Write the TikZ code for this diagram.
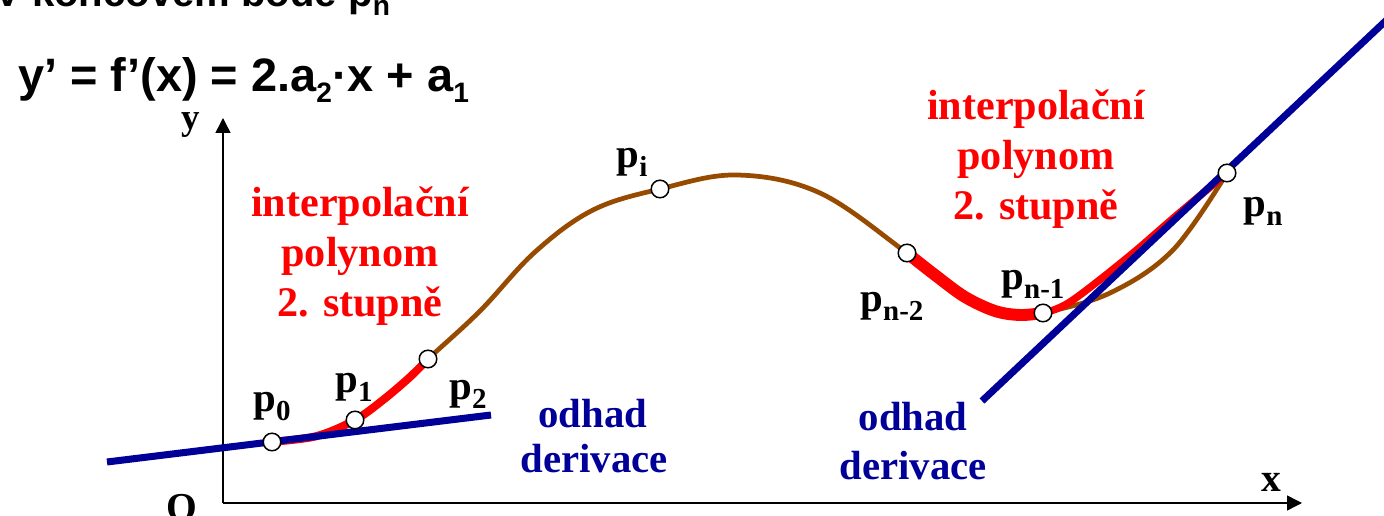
\documentclass[tikz,border=0pt]{standalone}
\usepackage{fontspec}
\setmainfont{Liberation Serif}
\newfontfamily\arialfont{Liberation Sans}
\usetikzlibrary{arrows.meta}
\definecolor{navyline}{RGB}{0,0,153}
\definecolor{curvebrown}{RGB}{150,75,0}
\newcommand{\lsub}[1]{\raisebox{-0.2em}{\fontsize{16.5pt}{16.5pt}\selectfont #1}}
\newcommand{\esub}[1]{\raisebox{-0.22em}{\fontsize{16pt}{16pt}\selectfont #1}}
\begin{document}
\begin{tikzpicture}[x=0.02cm,y=-0.02cm,
  ptlabel/.style={font=\bfseries\fontsize{23.2pt}{28pt}\selectfont, anchor=base, inner sep=0pt},
  axislabel/.style={font=\bfseries\fontsize{22.5pt}{26pt}\selectfont, anchor=base, inner sep=0pt},
  redtext/.style={font=\bfseries\fontsize{24pt}{28pt}\selectfont, text=red, anchor=base, inner sep=0pt},
  bluetext/.style={font=\bfseries\fontsize{23.2pt}{28pt}\selectfont, text=navyline, anchor=base, inner sep=0pt},
  headtext/.style={font=\arialfont\bfseries\fontsize{22.8pt}{28pt}\selectfont, anchor=base west, inner sep=0pt},
  eqtext/.style={font=\arialfont\bfseries\fontsize{26.7pt}{32pt}\selectfont, anchor=base west, inner sep=0pt},
  ptdot/.style={circle, draw=black, fill=white, line width=0.85pt, minimum size=10pt, inner sep=0pt},
  axisline/.style={line width=0.85pt, -{Triangle[length=8.5pt,width=8.5pt]}},
  tangent/.style={navyline, line width=4pt},
  mainline/.style={curvebrown, line width=2.7pt, line join=round},
  interp/.style={red, line width=#1, line join=round},
]
\useasboundingbox (0,0) rectangle (1384,516);
\clip (0,0) rectangle (1384,516);

% key points
\coordinate (P0) at (272,442);
\coordinate (P1) at (355,420);
\coordinate (P2) at (428,359);
\coordinate (Pi) at (660,189);
\coordinate (Pn2) at (907,253);
\coordinate (Pn1) at (1043,313);
\coordinate (Pn) at (1227,173);

% heading texts
\node[headtext] (head) at (-6,7) {V koncovém bodě p\esub{n}};
\node[eqtext] (eq) at (18,92) {y’ = f’(x) = 2.a\esub{2}·x + a\esub{1}};

% axes
\coordinate (origin) at (223,503);
\coordinate (ytip) at (223,118);
\coordinate (xtip) at (1302,503);
\draw[axisline] (origin) -- (ytip);
\draw[axisline] (origin) -- (xtip);
\node[axislabel, font=\bfseries\fontsize{21pt}{24pt}\selectfont] (ylab) at (191,130) {y};
\node[axislabel] (xlab) at (1271,492) {x};
\node[axislabel] (olab) at (182,521) {O};

% brown function curve
\draw[mainline] plot[smooth, tension=0.6] coordinates {(P0) (317,437) (P1) (392,393) (P2) (480,311) (535,252) (593,210) (Pi) (737,175) (820,193) (Pn2) (965,297) (1020,315) (Pn1) (1110,293) (1173,250) (Pn)};

% red interpolation parabolas
\draw[interp=4.6pt] plot[smooth, tension=0.55] coordinates {(267,443) (P0) (317,436) (P1) (383,400) (410,377) (P2)};
\draw[interp=6.8pt] plot[smooth, tension=0.55] coordinates {(Pn2) (935,275) (965,297) (995,311) (1020,315) (Pn1)};
\draw[interp=4.2pt] plot[smooth, tension=0.55] coordinates {(Pn1) (1070,302) (1127,258) (1177,215) (Pn)};

% tangent estimates
\coordinate (tl1) at (107,462);
\coordinate (tl2) at (491,415);
\coordinate (tr1) at (982,401);
\coordinate (tr2) at (1410,-2);
\draw[tangent] (tl1) -- (tl2);
\draw[tangent] (tr1) -- (tr2);

% points
\node[ptdot] (p0) at (P0) {};
\node[ptdot] (p1) at (P1) {};
\node[ptdot] (p2) at (P2) {};
\node[ptdot] (pi) at (Pi) {};
\node[ptdot] (pn2) at (Pn2) {};
\node[ptdot] (pn1) at (Pn1) {};
\node[ptdot] (pn) at (Pn) {};

% point labels
\node[ptlabel] (l0) at (272,412) {p\lsub{0}};
\node[ptlabel] (l1) at (354,393) {p\lsub{1}};
\node[ptlabel] (l2) at (468,400) {p\lsub{2}};
\node[ptlabel] (li) at (632,168) {p\lsub{i}};
\node[ptlabel] (ln2) at (892,312) {p\lsub{n-2}};
\node[ptlabel] (ln1) at (1033,290) {p\lsub{n-1}};
\node[ptlabel] (ln) at (1263,217) {p\lsub{n}};

% red texts
\node[redtext] (ra1) at (360,217) {interpolační};
\node[redtext] (ra2) at (360,267) {polynom};
\node[redtext] (ra3) at (360,317) {2. stupně};
\node[redtext] (rb1) at (1036,120) {interpolační};
\node[redtext] (rb2) at (1036,170) {polynom};
\node[redtext] (rb3) at (1036,220) {2. stupně};

% blue texts
\node[bluetext] (ba1) at (593,428) {odhad};
\node[bluetext] (ba2) at (594,473) {derivace};
\node[bluetext] (bb1) at (913,431) {odhad};
\node[bluetext] (bb2) at (913,480) {derivace};
\end{tikzpicture}
\end{document}
